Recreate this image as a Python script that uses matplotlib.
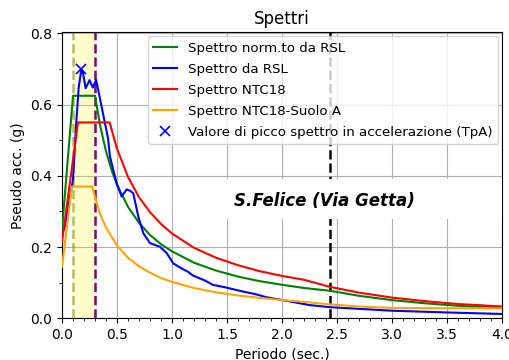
import matplotlib
matplotlib.use("Agg")
import matplotlib.pyplot as plt
from matplotlib.patches import Rectangle
from matplotlib.ticker import MultipleLocator
import numpy as np

# Spectrum data (period in s, pseudo acceleration in g)
t_norm = [0, 0.1, 0.3, 0.35, 0.4, 0.45, 0.5, 0.6, 0.7, 0.8, 0.9, 1.0, 1.2, 1.4,
          1.6, 1.8, 2.0, 2.2, 2.44, 2.7, 3.0, 3.3, 3.6, 4.0]
sa_norm = [0.25, 0.625, 0.625, 0.536, 0.469, 0.417, 0.375, 0.313, 0.268, 0.234,
           0.208, 0.188, 0.156, 0.134, 0.117, 0.104, 0.094, 0.085, 0.077, 0.063,
           0.051, 0.042, 0.035, 0.029]

t_rsl = [0, 0.02, 0.05, 0.1, 0.13, 0.151, 0.176, 0.19, 0.215, 0.25, 0.28, 0.31,
         0.33, 0.357, 0.418, 0.436, 0.497, 0.542, 0.588, 0.62, 0.648, 0.694,
         0.739, 0.8, 0.89, 0.952, 1.012, 1.088, 1.148, 1.19, 1.3, 1.37, 1.497,
         1.63, 1.755, 1.86, 2.04, 2.25, 2.44, 3.01, 3.53, 4.0]
sa_rsl = [0.24, 0.25, 0.3, 0.39, 0.552, 0.646, 0.70, 0.69, 0.646, 0.669, 0.648,
          0.669, 0.64, 0.599, 0.506, 0.454, 0.379, 0.342, 0.362, 0.358, 0.351,
          0.285, 0.239, 0.211, 0.201, 0.183, 0.154, 0.14, 0.13, 0.12, 0.106,
          0.094, 0.086, 0.076, 0.068, 0.059, 0.049, 0.037, 0.031, 0.021, 0.016,
          0.012]

t_ntc = [0, 0.145, 0.433, 0.5, 0.6, 0.7, 0.8, 0.9, 1.0, 1.2, 1.4, 1.6, 1.8, 2.0,
         2.2, 2.44, 2.7, 3.0, 3.3, 3.6, 4.0]
sa_ntc = [0.215, 0.55, 0.55, 0.476, 0.397, 0.340, 0.298, 0.265, 0.238, 0.198,
          0.170, 0.149, 0.132, 0.119, 0.108, 0.088, 0.072, 0.058, 0.048, 0.040,
          0.033]

t_ntc_a = [0, 0.09, 0.275, 0.3, 0.35, 0.4, 0.5, 0.6, 0.7, 0.8, 0.9, 1.0, 1.2,
           1.4, 1.6, 1.8, 2.0, 2.2, 2.44, 2.7, 3.0, 3.5, 4.0]
sa_ntc_a = [0.145, 0.37, 0.37, 0.34, 0.29, 0.255, 0.204, 0.170, 0.146, 0.128,
            0.113, 0.102, 0.085, 0.073, 0.064, 0.057, 0.051, 0.046, 0.039,
            0.033, 0.029, 0.028, 0.028]

t_b, t_c = 0.1, 0.3     # band limits
t_d = 2.44              # corner period
site = "S.Felice (Via Getta)"

fig = plt.figure(figsize=(5.1, 3.6), dpi=100)
ax = fig.add_axes([0.1216, 0.116, 0.8625, 0.794])

ax.axvspan(t_b, t_c, color="yellow", alpha=0.2, lw=0, zorder=1)
ax.axvline(t_b, color="olive", alpha=0.55, ls="--", lw=1.8, zorder=2)
ax.axvline(t_c, color="purple", ls="--", lw=1.8, zorder=2)
ax.axvline(t_d, color="black", ls="--", lw=1.8, zorder=2)

ax.plot(t_norm, sa_norm, color="green", lw=1.5, label="Spettro norm.to da RSL", zorder=4)
ax.plot(t_rsl, sa_rsl, color="blue", lw=1.5, label="Spettro da RSL", zorder=4)
ax.plot(t_ntc, sa_ntc, color="red", lw=1.5, label="Spettro NTC18", zorder=4)
ax.plot(t_ntc_a, sa_ntc_a, color="orange", lw=1.5, label="Spettro NTC18-Suolo A", zorder=4)

# peak of the RSL spectrum
i_pk = int(np.argmax(sa_rsl))
ax.plot(t_rsl[i_pk], sa_rsl[i_pk], "x", color="blue", ms=7, mew=1.2, ls="none",
        label="Valore di picco spettro in accelerazione (TpA)", zorder=5)

# white band behind the site name
ax.add_patch(Rectangle((1.01, 0.278), 4.0 - 1.01, 0.391 - 0.278,
                       facecolor="white", edgecolor="none", zorder=3))
ax.text(2.39, 0.330, site, fontsize=12, fontweight="bold", fontstyle="italic",
        ha="center", va="center", zorder=5)

ax.set_xlim(0, 4.0)
ax.set_ylim(0, 0.803)
ax.xaxis.set_major_locator(MultipleLocator(0.5))
ax.xaxis.set_minor_locator(MultipleLocator(0.1))
ax.yaxis.set_major_locator(MultipleLocator(0.2))
ax.yaxis.set_minor_locator(MultipleLocator(0.1))
ax.grid(True, which="major", color="#b0b0b0", lw=0.8, zorder=0)
ax.set_axisbelow(True)

ax.set_title("Spettri", fontsize=12)
ax.set_xlabel("Periodo (sec.)")
ax.set_ylabel("Pseudo acc. (g)")
ax.legend(loc="upper right", fontsize=9.6, handlelength=1.8, labelspacing=0.6,
          borderaxespad=0.3)

fig.savefig("out.png", dpi=100)
